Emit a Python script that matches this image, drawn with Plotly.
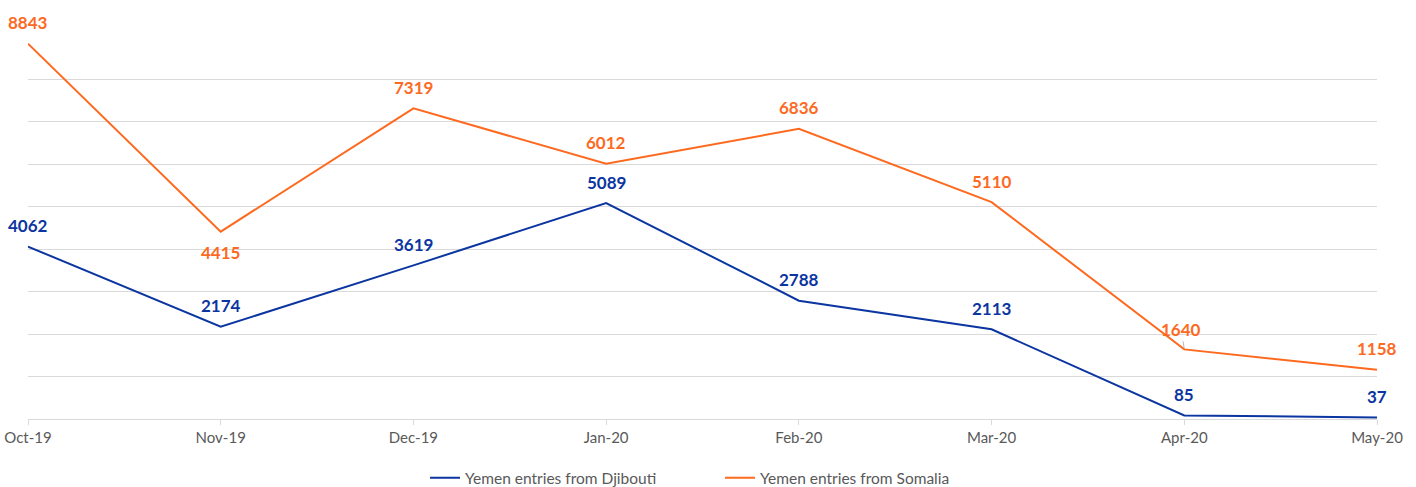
import plotly.graph_objects as go

months = ["Oct-19", "Nov-19", "Dec-19", "Jan-20", "Feb-20", "Mar-20", "Apr-20", "May-20"]
djibouti = [4062, 2174, 3619, 5089, 2788, 2113, 85, 37]
somalia = [8843, 4415, 7319, 6012, 6836, 5110, 1640, 1158]
# label side per point: 1 = above, -1 = below
somalia_side = [1, -1, 1, 1, 1, 1, 1, 1]
djibouti_side = [1, 1, 1, 1, 1, 1, 1, 1]

BLUE = "#0B35A0"
ORANGE = "#FD6A1F"
FONT = "Lato"

fig = go.Figure()
fig.add_trace(go.Scatter(x=months, y=djibouti, mode="lines", name="Yemen entries from Djibouti",
                         line=dict(color=BLUE, width=2)))
fig.add_trace(go.Scatter(x=months, y=somalia, mode="lines", name="Yemen entries from Somalia",
                         line=dict(color=ORANGE, width=2)))

ann = []
for m, v, s in zip(months, djibouti, djibouti_side):
    ann.append(dict(x=m, y=v, text=f"<b>{v}</b>", showarrow=False, yshift=21 * s,
                    font=dict(family=FONT, size=17, color=BLUE)))
for m, v, s in zip(months, somalia, somalia_side):
    if m == "Apr-20":
        ann.append(dict(x=m, y=v, text=f"<b>{v}</b>", showarrow=True, arrowhead=0, arrowwidth=0.8,
                        arrowcolor="#A6A6A6", ax=-3, ay=-20, standoff=1,
                        font=dict(family=FONT, size=17, color=ORANGE)))
    else:
        ann.append(dict(x=m, y=v, text=f"<b>{v}</b>", showarrow=False, yshift=21 * s,
                        font=dict(family=FONT, size=17, color=ORANGE)))

fig.update_layout(
    width=1416, height=487,
    margin=dict(l=28, r=39, t=37, b=68, autoexpand=False),
    paper_bgcolor="white", plot_bgcolor="white",
    font=dict(family=FONT, size=15, color="#595959"),
    annotations=ann,
    showlegend=True,
    legend=dict(orientation="h", x=0.513, xanchor="center", y=-0.155, yanchor="middle",
                font=dict(family=FONT, size=15.5, color="#595959"), itemwidth=30,
                entrywidth=250, entrywidthmode="pixels",
                traceorder="normal"),
)
fig.update_xaxes(type="category", range=[0, 7], showgrid=False, showline=True,
                 linecolor="#D9D9D9", linewidth=1, ticks="outside", ticklen=5,
                 tickcolor="#D9D9D9", tickfont=dict(family=FONT, size=15, color="#595959"),
                 fixedrange=True, automargin=False)
fig.update_yaxes(range=[0, 9000], dtick=1000, showgrid=True, gridcolor="#D9D9D9",
                 showticklabels=False, zeroline=False, showline=False, fixedrange=True,
                 automargin=False)

fig.write_html("out.html", config={"displayModeBar": False},
               post_script="document.body.style.margin='0';document.body.style.overflow='hidden';")
